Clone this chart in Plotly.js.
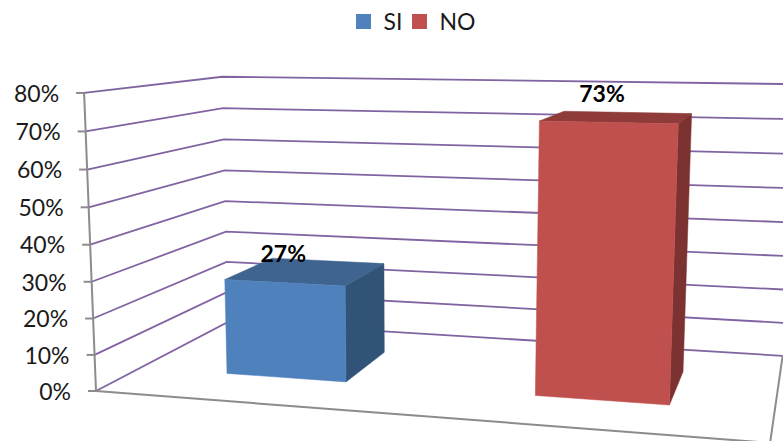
<!DOCTYPE html>
<html>
<head>
<meta charset="utf-8">
<script src="https://cdn.plot.ly/plotly-3.0.1.min.js"></script>
<style>html,body{margin:0;padding:0;background:#fff}#chart{width:783px;height:441px}</style>
</head>
<body>
<div id="chart"></div>
<script>
// Survey result: share of SI and NO answers
const categories = ['SI', 'NO'];
const values = [27, 73];
const tickValues = [0, 10, 20, 30, 40, 50, 60, 70, 80];
const tickLabels = ['0%', '10%', '20%', '30%', '40%', '50%', '60%', '70%', '80%'];
const barColors = ['#4f81bd', '#c0504d'];
const topColors = ['#3f648f', '#8e3b39'];
const sideColors = ['#325378', '#7c3230'];

// Perspective projection of the chart box: across (0-1), value (percent), depth (0-1)
const ORIGIN = [96, 391, 1];
const ACROSS = [581.6, -1.321, -0.1201];
const HEIGHT = [-18.65, -376.7, -0.04484];
const DEPTH = [181.8, 1.091, 0.2182];

function project(a, pct, d) {
  const v = pct / 100;
  const h = [0, 1, 2].map(i => ORIGIN[i] + a * ACROSS[i] + v * HEIGHT[i] + d * DEPTH[i]);
  return [h[0] / h[2], h[1] / h[2]];
}

function path(points, style, extra) {
  return Object.assign({
    x: points.map(p => p[0]),
    y: points.map(p => p[1]),
    type: 'scatter',
    mode: 'lines',
    hoverinfo: 'skip',
    showlegend: false
  }, style, extra || {});
}

const GRID = {line: {color: '#8064a2', width: 1.8}};
const AXIS = {line: {color: '#8c8c8c', width: 2}};
const traces = [];

// Gridlines run along the left wall, then along the back wall
tickValues.forEach(t => {
  traces.push(path([project(0, t, 0), project(0, t, 1), project(1, t, 1)], GRID));
});

// Value axis, its tick marks and the floor edges
traces.push(path([project(0, 0, 0), project(0, 80, 0)], AXIS));
traces.push(path([project(0, 0, 0), project(1, 0, 0)], AXIS));
traces.push(path([project(1, 0, 1), project(1, 0, 0)], AXIS));
tickValues.forEach(t => {
  const p = project(0, t, 0);
  traces.push(path([[p[0] - 8, p[1]], p], AXIS));
});

// Value axis labels
traces.push({
  type: 'scatter', mode: 'text', hoverinfo: 'skip', showlegend: false,
  x: tickValues.map(t => project(0, t, 0)[0] - 25),
  y: tickValues.map(t => project(0, t, 0)[1] + 3),
  text: tickLabels,
  textposition: 'middle left',
  textfont: {family: 'Lato, sans-serif', size: 23, color: '#1a1a1a'}
});

// One box per category: side, top and front faces
const BAR_WIDTH = 0.2, D0 = 0.3, D1 = 0.7;
const legendIds = ['legend', 'legend2'];
categories.forEach((name, i) => {
  const c = (i + 0.5) / categories.length;
  const a0 = c - BAR_WIDTH / 2, a1 = c + BAR_WIDTH / 2, v = values[i];
  const face = (pts, color) => path(pts.concat([pts[0]]), {
    fill: 'toself', fillcolor: color, line: {color: color, width: 0.5}, legendgroup: name
  });
  traces.push(face([project(a1, 0, D0), project(a1, 0, D1), project(a1, v, D1), project(a1, v, D0)], sideColors[i]));
  traces.push(face([project(a0, v, D0), project(a0, v, D1), project(a1, v, D1), project(a1, v, D0)], topColors[i]));
  traces.push(face([project(a0, 0, D0), project(a1, 0, D0), project(a1, v, D0), project(a0, v, D0)], barColors[i]));
  // Legend key for the series
  traces.push({
    type: 'scatter', mode: 'markers', name: name, legendgroup: name, legend: legendIds[i],
    x: [null], y: [null],
    marker: {symbol: 'square', size: 15, color: barColors[i]}
  });
});

// Value labels above the boxes
const labelNudge = [-1, -6];
traces.push({
  type: 'scatter', mode: 'text', hoverinfo: 'skip', showlegend: false,
  x: values.map((v, i) => project((i + 0.5) / categories.length, v, D0)[0] + labelNudge[i]),
  y: values.map((v, i) => project((i + 0.5) / categories.length, v, D0)[1] - 26),
  text: values.map(v => v + '%'),
  textposition: 'middle center',
  textfont: {family: 'Lato, sans-serif', size: 23, color: '#000', weight: 'bold'}
});

const legendStyle = {
  xanchor: 'left', y: 1.0, yanchor: 'top',
  font: {family: 'Lato, sans-serif', size: 23, color: '#1a1a1a'},
  bgcolor: 'rgba(0,0,0,0)'
};

const layout = {
  width: 783, height: 441,
  margin: {l: 0, r: 0, t: 0, b: 0},
  paper_bgcolor: '#fff', plot_bgcolor: '#fff',
  xaxis: {range: [0, 783], visible: false, fixedrange: true},
  yaxis: {range: [441, 0], visible: false, fixedrange: true},
  showlegend: true,
  legend: Object.assign({x: 0.4387}, legendStyle),
  legend2: Object.assign({x: 0.5102}, legendStyle)
};

Plotly.newPlot('chart', traces, layout, {displayModeBar: false, staticPlot: true});
</script>
</body>
</html>
